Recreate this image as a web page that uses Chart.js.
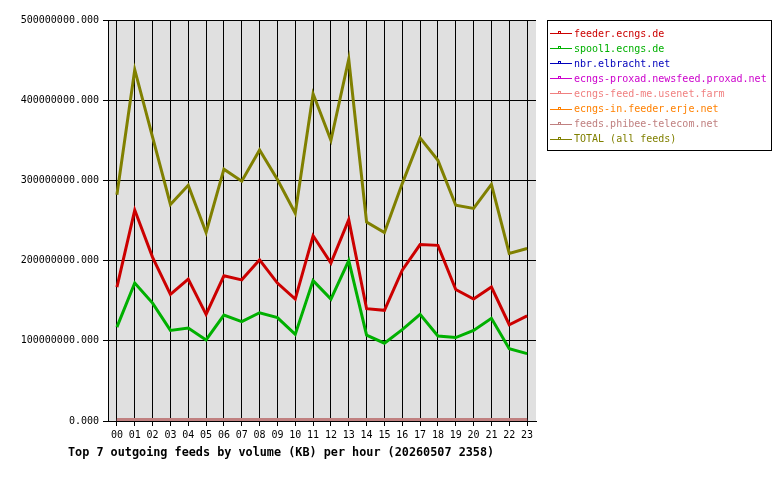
<!DOCTYPE html>
<html>
<head>
<meta charset="utf-8">
<script src="https://cdn.jsdelivr.net/npm/chart.js@4/dist/chart.umd.min.js"></script>
<style>
  html, body { margin: 0; padding: 0; background: #fff; }
  #wrap { width: 780px; height: 480px; }
</style>
</head>
<body>
<div id="wrap"><canvas id="chart" width="780" height="480"></canvas></div>
<script>
// horas do dia
const hours = ['00','01','02','03','04','05','06','07','08','09','10','11',
               '12','13','14','15','16','17','18','19','20','21','22','23'];

// volumes (KB)
const feederEcngs = [167e6, 263e6, 204e6, 158e6, 177e6, 133e6, 181e6, 176e6, 201e6, 172e6, 152e6, 231e6,
                     197e6, 251e6, 140e6, 138e6, 188e6, 220e6, 219e6, 164e6, 152e6, 167e6, 120e6, 131e6];
const spool1Ecngs = [117e6, 172e6, 147e6, 113e6, 116e6, 101e6, 132e6, 124e6, 135e6, 129e6, 108e6, 175e6,
                     152e6, 200e6, 107e6, 97e6, 114e6, 133e6, 106e6, 104e6, 113e6, 128e6, 90e6, 84e6];
const nbrElbracht = [0,0,0,0,0,0,0,0,0,0,0,0,0,0,0,0,0,0,0,0,0,0,0,0];
const proxad      = [0,0,0,0,0,0,0,0,0,0,0,0,0,0,0,0,0,0,0,0,0,0,0,0];
const usenetFarm  = [0,0,0,0,0,0,0,0,0,0,0,0,0,0,0,0,0,0,0,0,0,0,0,0];
const erjeNet     = [0,0,0,0,0,0,0,0,0,0,0,0,0,0,0,0,0,0,0,0,0,0,0,0];
const phibee      = [2e6, 2e6, 2e6, 2e6, 2e6, 2e6, 2e6, 2e6, 2e6, 2e6, 2e6, 2e6,
                     2e6, 2e6, 2e6, 2e6, 2e6, 2e6, 2e6, 2e6, 2e6, 2e6, 2e6, 2e6];
const total       = [282e6, 438e6, 354e6, 270e6, 294e6, 235e6, 314e6, 299e6, 338e6, 301e6, 259e6, 408e6,
                     350e6, 451e6, 248e6, 235e6, 296e6, 353e6, 325e6, 269e6, 265e6, 295e6, 209e6, 215e6];

const feedNames = ['feeder.ecngs.de', 'spool1.ecngs.de', 'nbr.elbracht.net',
                   'ecngs-proxad.newsfeed.proxad.net', 'ecngs-feed-me.usenet.farm',
                   'ecngs-in.feeder.erje.net', 'feeds.phibee-telecom.net', 'TOTAL (all feeds)'];
const feedColors = ['#cc0000', '#00b000', '#0000bb', '#cc00cc', '#f08080', '#ff8000', '#c08080', '#808000'];
const feedData = [feederEcngs, spool1Ecngs, nbrElbracht, proxad, usenetFarm, erjeNet, phibee, total];

const yTicks = [0, 100e6, 200e6, 300e6, 400e6, 500e6];

const mono = '"DejaVu Sans Mono", "Liberation Mono", monospace';

// fundo cinza da area do grafico
const plotBg = {
  id: 'plotBg',
  beforeDraw(chart) {
    const { ctx, chartArea: a } = chart;
    ctx.save();
    ctx.fillStyle = '#e0e0e0';
    ctx.fillRect(a.left, a.top, a.right - a.left, a.bottom - a.top);
    ctx.restore();
  }
};

// legenda com caixa + titulo embaixo
const boxLegend = {
  id: 'boxLegend',
  afterDraw(chart) {
    const ctx = chart.ctx;
    const a = chart.chartArea;
    const bx = a.right + 11, by = a.top, bw = 224, bh = 130;
    ctx.save();
    ctx.strokeStyle = '#000';
    ctx.lineWidth = 1;
    ctx.strokeRect(bx + 0.5, by + 0.5, bw, bh);
    ctx.font = '10px ' + mono;
    ctx.textBaseline = 'middle';
    chart.data.datasets.forEach((ds, i) => {
      const y = by + 13 + i * 15.1;
      ctx.strokeStyle = ds.borderColor;
      ctx.beginPath();
      ctx.moveTo(bx + 3, Math.round(y) + 0.5);
      ctx.lineTo(bx + 25, Math.round(y) + 0.5);
      ctx.stroke();
      ctx.strokeRect(bx + 11.5, Math.round(y) - 1.5, 2, 2);
      ctx.fillStyle = ds.borderColor;
      ctx.fillText(ds.label, bx + 27, y + 1);
    });
    ctx.fillStyle = '#000';
    ctx.font = 'bold 11.8px ' + mono;
    ctx.textBaseline = 'alphabetic';
    ctx.fillText('Top 7 outgoing feeds by volume (KB) per hour (20260507 2358)', 68, 456);
    ctx.restore();
  }
};

const ctx = document.getElementById('chart').getContext('2d');
const chart = new Chart(ctx, {
  type: 'line',
  data: {
    labels: hours,
    datasets: feedNames.map((name, i) => ({
      label: name,
      data: feedData[i],
      borderColor: feedColors[i],
      backgroundColor: feedColors[i],
      borderWidth: 3,
      pointRadius: 0,
      tension: 0,
      fill: false,
      order: feedNames.length - i   // ultimos por cima
    }))
  },
  options: {
    responsive: false,
    animation: false,
    layout: { padding: { left: 0, right: 244, top: 20, bottom: 0 } },
    plugins: {
      legend: { display: false },
      tooltip: { enabled: false }
    },
    scales: {
      x: {
        offset: true,
        grid: { offset: false, color: '#000', lineWidth: 1, tickLength: 5, drawTicks: true },
        border: { color: '#000', width: 1 },
        ticks: { color: '#000', font: { family: mono, size: 10 }, padding: 3, maxRotation: 0, autoSkip: false },
        afterFit(scale) { scale.height = 59; }
      },
      y: {
        min: 0,
        max: 500e6,
        afterBuildTicks(scale) { scale.ticks = yTicks.map(v => ({ value: v })); },
        grid: { color: '#000', lineWidth: 1, tickLength: 5, drawTicks: true },
        border: { color: '#000', width: 1 },
        ticks: {
          color: '#000',
          font: { family: mono, size: 10 },
          padding: 4,
          callback: v => v.toFixed(3)
        },
        afterFit(scale) { scale.width = 108; }
      }
    }
  },
  plugins: [plotBg, boxLegend]
});
</script>
</body>
</html>
